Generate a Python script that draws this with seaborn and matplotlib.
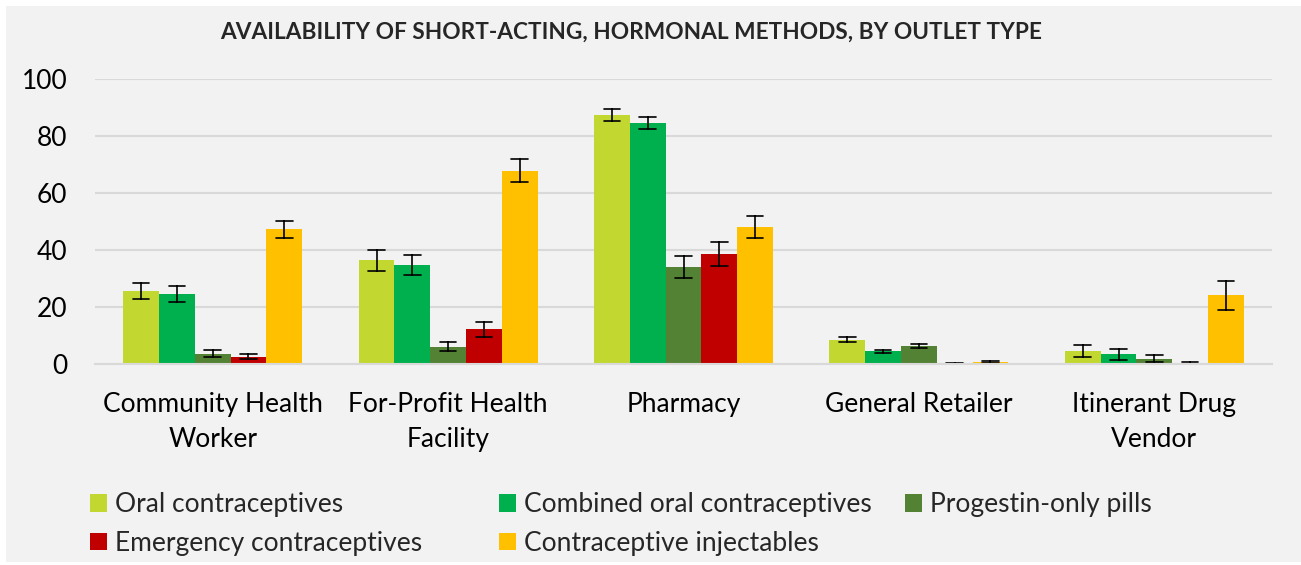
import numpy as np
import pandas as pd
import matplotlib
matplotlib.use("Agg")
import matplotlib.pyplot as plt
import seaborn as sns
from matplotlib.patches import Rectangle

outlets = ["Community Health\nWorker", "For-Profit Health\nFacility", "Pharmacy",
           "General Retailer", "Itinerant Drug\nVendor"]
methods = ["Oral contraceptives", "Combined oral contraceptives", "Progestin-only pills",
           "Emergency contraceptives", "Contraceptive injectables"]
colors = ["#C2D831", "#00B04F", "#548235", "#C00000", "#FFC000"]

# availability (%) per method, one value per outlet
oral = [25.7, 36.4, 87.4, 8.5, 4.6]
combined = [24.5, 34.7, 84.6, 4.4, 3.4]
progestin = [3.6, 6.1, 34.0, 6.3, 1.8]
emergency = [2.6, 12.2, 38.6, 0.2, 0.4]
injectables = [47.2, 67.8, 48.1, 0.8, 24.1]

# half-width of the confidence intervals
oral_err = [2.8, 3.6, 2.1, 0.8, 2.1]
combined_err = [2.7, 3.4, 2.2, 0.45, 1.9]
progestin_err = [1.3, 1.6, 3.8, 0.7, 1.2]
emergency_err = [1.0, 2.6, 4.2, 0.15, 0.4]
injectables_err = [3.1, 4.1, 3.9, 0.3, 5.0]

values = [oral, combined, progestin, emergency, injectables]
errors = [oral_err, combined_err, progestin_err, emergency_err, injectables_err]

# two rows per bar (value -/+ error): mean gives the bar, min/max the error bar
rows = []
for m, vals, errs in zip(methods, values, errors):
    for o, v, e in zip(outlets, vals, errs):
        rows.append({"outlet": o, "method": m, "pct": v - e})
        rows.append({"outlet": o, "method": m, "pct": v + e})
df = pd.DataFrame(rows)

sns.set_style("white")
plt.rcParams["font.family"] = ["Lato", "DejaVu Sans"]
W, H = 1301, 565

fig = plt.figure(figsize=(W / 100, H / 100), dpi=100)
fig.patch.set_facecolor("white")
fig.patches.append(Rectangle((6 / W, 3 / H), 1 - 6 / W, 1 - 9 / H,
                             transform=fig.transFigure, facecolor="#F2F2F2",
                             edgecolor="none", zorder=-10))
ax = fig.add_axes([95 / W, 1 - 364 / H, (1272 - 95) / W, (364 - 79) / H])
ax.set_facecolor("none")

sns.barplot(data=df, x="outlet", y="pct", hue="method", order=outlets, hue_order=methods,
            palette=colors, width=0.76, errorbar=lambda x: (x.min(), x.max()),
            capsize=0.35, err_kws={"color": "black", "linewidth": 1.2},
            saturation=1, linewidth=0, ax=ax, legend=True)

ax.set_ylim(0, 100)
ax.set_xlim(-0.5, 4.5)
ax.set_yticks([0, 20, 40, 60, 80, 100])
ax.yaxis.grid(True, color="#D9D9D9", linewidth=1.5)
ax.set_axisbelow(True)
for s in ["top", "right", "left"]:
    ax.spines[s].set_visible(False)
ax.spines["bottom"].set_color("#D9D9D9")
ax.spines["bottom"].set_linewidth(1.5)
ax.tick_params(axis="y", length=0, pad=20, labelsize=19, labelcolor="black")
ax.tick_params(axis="x", length=0, pad=20, labelsize=19, labelcolor="black")
for lab in ax.get_xticklabels():
    lab.set_linespacing(1.5)
ax.set_xlabel("")
ax.set_ylabel("")

handles, labels = ax.get_legend_handles_labels()
ax.legend_.remove()
# one legend per column so the columns sit where the original has them
for idx, x0 in [([0, 3], 90), ([1, 4], 499), ([2], 905)]:
    fig.legend([handles[i] for i in idx], [labels[i] for i in idx], ncol=1,
               loc="upper left", bbox_to_anchor=(x0 / W, 1 - 492 / H), frameon=False,
               fontsize=19, handlelength=0.65, handleheight=0.65, handletextpad=0.3,
               labelspacing=0.52, borderpad=0, borderaxespad=0)

fig.text(631 / W, 1 - 32 / H,
         "AVAILABILITY OF SHORT-ACTING, HORMONAL METHODS, BY OUTLET TYPE",
         ha="center", va="center", fontsize=16.3, fontweight="bold")

fig.savefig("out.png", dpi=100, facecolor=fig.get_facecolor())
